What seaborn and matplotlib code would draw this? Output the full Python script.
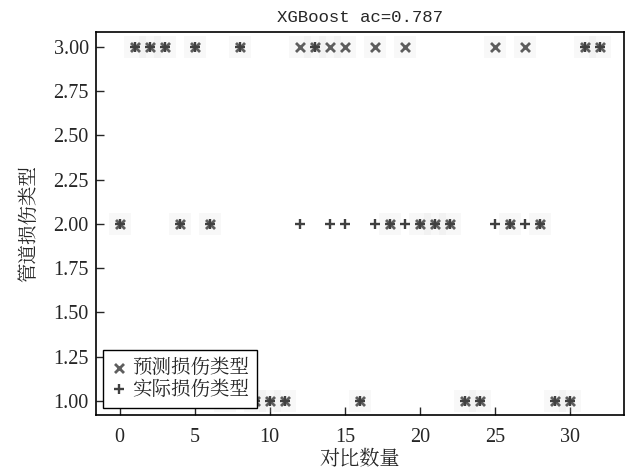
import numpy as np
import pandas as pd
import seaborn as sns
import matplotlib
matplotlib.use("Agg")
import matplotlib.pyplot as plt

# 对比数据
sample_idx = list(range(33))
pred_type = [2, 3, 3, 3, 2, 3, 2, 1, 3, 1, 1, 1, 3, 3, 3, 3, 1,
             3, 2, 3, 2, 2, 2, 1, 1, 3, 2, 3, 2, 1, 1, 3, 3]
true_type = [2, 3, 3, 3, 2, 3, 2, 1, 3, 1, 1, 1, 2, 3, 2, 2, 1,
             2, 2, 2, 2, 2, 2, 1, 1, 2, 2, 2, 2, 1, 1, 3, 3]
title_text = "XGBoost ac=0.787"
x_label = "对比数量"
y_label = "管道损伤类型"
pred_label = "预测损伤类型"
true_label = "实际损伤类型"

df = pd.DataFrame({"idx": sample_idx, "pred": pred_type, "true": true_type})

sns.set_style("white")
cjk = ["Noto Serif CJK SC", "Noto Sans CJK SC", "DejaVu Sans"]
plt.rcParams["font.family"] = ["Liberation Serif"] + cjk
plt.rcParams["axes.unicode_minus"] = False

fig, ax = plt.subplots(figsize=(6.34, 4.70), dpi=100)
fig.subplots_adjust(left=0.151, right=0.984, top=0.932, bottom=0.117)

# 预测点的模糊底色
sns.scatterplot(x="idx", y="pred", data=df, ax=ax, marker="s", s=230,
                color="#d5d5d5", alpha=0.15, linewidth=0, legend=False, zorder=1)
sns.scatterplot(x="idx", y="pred", data=df, ax=ax, marker="x", s=42,
                color="#5e5e5e", linewidth=2.0, label=pred_label, zorder=3)
sns.scatterplot(x="idx", y="true", data=df, ax=ax, marker="+", s=44,
                color="#404040", linewidth=1.7, label=true_label, zorder=4)

ax.set_xlim(-1.6, 33.6)
ax.set_ylim(0.92, 3.085)
ax.set_yticks([1.0, 1.25, 1.5, 1.75, 2.0, 2.25, 2.5, 2.75, 3.0])
ax.set_yticklabels([f"{v:.2f}" for v in ax.get_yticks()])
ax.set_xticks([0, 5, 10, 15, 20, 25, 30])

ax.tick_params(axis="both", direction="in", length=6, width=1, labelsize=14.5,
               left=True, bottom=True)
ax.tick_params(axis="x", pad=9)
ax.tick_params(axis="y", pad=5)
for sp in ax.spines.values():
    sp.set_color("black")
    sp.set_linewidth(1.2)

ax.set_title(title_text, fontsize=12.5, family=["Liberation Mono"] + cjk, pad=7)
ax.set_xlabel(x_label, fontsize=14.5, family=cjk, labelpad=1)
ax.set_ylabel(y_label, fontsize=14, family=cjk, labelpad=10)

leg = ax.legend(loc="lower left", frameon=True, fancybox=False,
                borderpad=0.45, handletextpad=0.25, labelspacing=0.05,
                borderaxespad=0.35, handlelength=0.8,
                prop={"family": cjk, "size": 14})
leg.get_frame().set_edgecolor("black")
leg.get_frame().set_linewidth(1.0)
leg.get_frame().set_alpha(1.0)
leg.set_zorder(10)

fig.savefig("out.png", dpi=100)
